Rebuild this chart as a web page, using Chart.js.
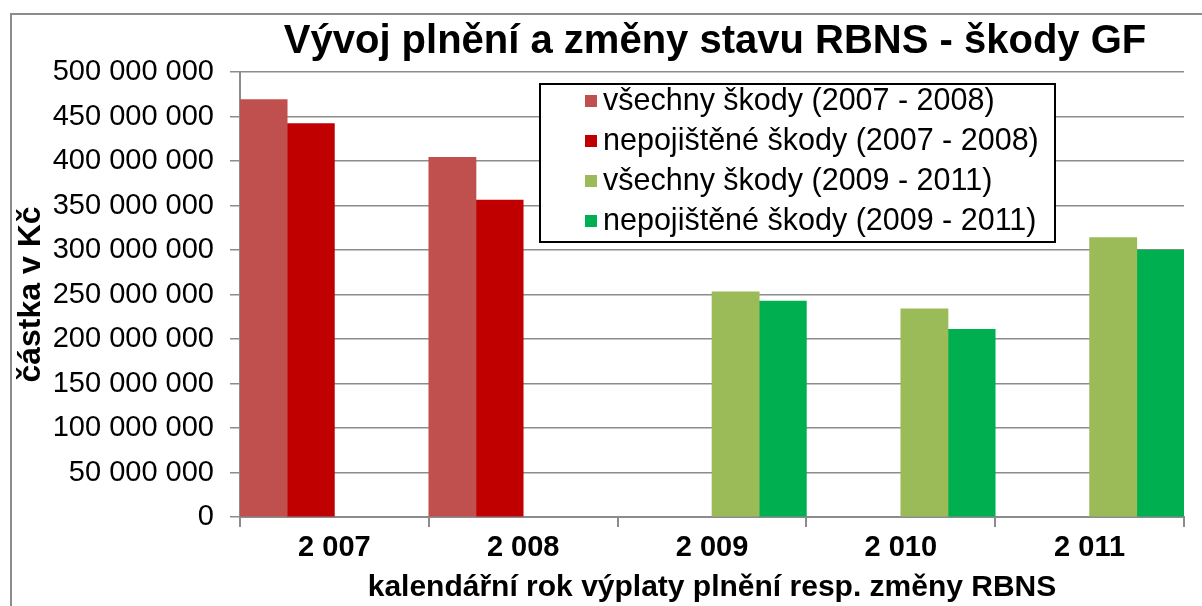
<!DOCTYPE html>
<html>
<head>
<meta charset="utf-8">
<script src="https://cdn.jsdelivr.net/npm/chart.js@4.4.1/dist/chart.umd.min.js"></script>
<style>
  html, body { margin: 0; padding: 0; background: #fff; overflow: hidden; }
  #wrap { position: relative; width: 1202px; height: 606px; }
  #frame { position: absolute; left: 10px; top: 13px; width: 1300px; height: 700px; border: 2px solid #8c8c8c; }
  #c { position: absolute; left: 0; top: 0; }
</style>
</head>
<body>
<div id="wrap">
  <div id="frame"></div>
  <canvas id="c" width="1202" height="606"></canvas>
</div>
<script>
  // ── Data ───────────────────────────────────────────────────────────────
  const years = ["2 007", "2 008", "2 009", "2 010", "2 011"];
  const allClaims0708     = [469e6, 404e6, null, null, null];
  const uninsured0708     = [442e6, 356e6, null, null, null];
  const allClaims0911     = [null, null, 253e6, 234e6, 314e6];
  const uninsured0911     = [null, null, 242.5e6, 211e6, 300e6];
  const seriesNames = [
    "všechny škody (2007 - 2008)",
    "nepojištěné škody (2007 - 2008)",
    "všechny škody (2009 - 2011)",
    "nepojištěné škody (2009 - 2011)"
  ];
  const colors = ["#C0504D", "#C00000", "#9BBB59", "#00B050"];

  const FONT = "'Liberation Sans', Arial, sans-serif";
  const GRID = "#8c8c8c";

  // thousands separated by spaces: 500000000 → "500 000 000"
  const fmtNum = (v) => String(Math.round(v)).replace(/\B(?=(\d{3})+(?!\d))/g, " ");

  // ── Title + boxed legend drawn on top of the plot ──────────────────────
  const overlay = {
    id: "overlay",
    afterDatasetsDraw(chart) {
      const ctx = chart.ctx;
      ctx.save();
      ctx.fillStyle = "#000";
      ctx.font = "bold 40px " + FONT;
      ctx.textAlign = "center";
      ctx.textBaseline = "middle";
      ctx.fillText("Vývoj plnění a změny stavu RBNS - škody GF", 715, 42);

      // legend box
      const bx = 540, by = 84, bw = 515, bh = 158;
      ctx.fillStyle = "#fff";
      ctx.fillRect(bx, by, bw, bh);
      ctx.strokeStyle = "#000";
      ctx.lineWidth = 2;
      ctx.strokeRect(bx, by, bw, bh);

      ctx.font = "30.5px " + FONT;
      ctx.textAlign = "left";
      chart.data.datasets.forEach((ds, i) => {
        const y = 101 + i * 40;
        ctx.fillStyle = ds.backgroundColor;
        ctx.fillRect(585, y - 6, 12, 12);
        ctx.fillStyle = "#000";
        ctx.fillText(ds.label, 603, y + 1);
      });
      ctx.restore();
    }
  };

  new Chart(document.getElementById("c"), {
    type: "bar",
    data: {
      labels: years,
      datasets: [
        { label: seriesNames[0], data: allClaims0708, backgroundColor: colors[0] },
        { label: seriesNames[1], data: uninsured0708, backgroundColor: colors[1] },
        { label: seriesNames[2], data: allClaims0911, backgroundColor: colors[2] },
        { label: seriesNames[3], data: uninsured0911, backgroundColor: colors[3] }
      ]
    },
    options: {
      responsive: false,
      animation: false,
      layout: { padding: { left: 12, top: 72, right: 18, bottom: 0 } },
      datasets: { bar: { barPercentage: 1, categoryPercentage: 1 } },
      plugins: { legend: { display: false }, tooltip: { enabled: false } },
      scales: {
        x: {
          afterFit: (s) => { s.height = 89; },
          grid: { display: true, drawOnChartArea: false, offset: true, color: GRID, lineWidth: 2, tickLength: 10 },
          border: { color: GRID, width: 2 },
          ticks: { color: "#000", font: { family: FONT, size: 29, weight: "bold" }, padding: 4 },
          title: {
            display: true, text: "kalendářní rok výplaty plnění resp. změny RBNS",
            color: "#000", font: { family: FONT, size: 30, weight: "bold" }, padding: { top: 0, bottom: 0 }
          }
        },
        y: {
          min: 0, max: 500e6,
          afterFit: (s) => { s.width = 228; },
          grid: { color: GRID, lineWidth: 1.5, tickLength: 10 },
          border: { color: GRID, width: 2 },
          ticks: {
            stepSize: 50e6, color: "#000", padding: 16,
            font: { family: FONT, size: 29 },
            callback: (v) => fmtNum(v)
          },
          title: {
            display: true, text: "částka v Kč",
            color: "#000", font: { family: FONT, size: 32, weight: "bold" }, padding: { top: 0, bottom: 0 }
          }
        }
      }
    },
    plugins: [overlay]
  });
</script>
</body>
</html>
